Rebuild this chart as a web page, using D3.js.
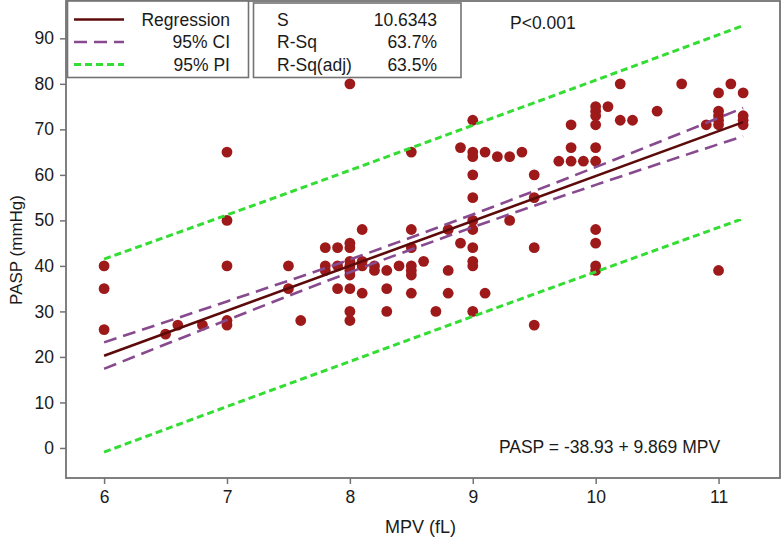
<!DOCTYPE html>
<html><head><meta charset="utf-8">
<script src="https://cdn.jsdelivr.net/npm/d3@7"></script>
<style>body{margin:0;background:#fff}svg{display:block}text{font-family:"Liberation Sans",Arial,sans-serif;fill:#1a1a1a}</style>
</head><body><svg id="c" width="783" height="539"></svg>
<script>
// ---- data ----
const mpv = [6,6,6, 6.5,6.6,6.8, 7,7,7,7,7, 7.5,7.5,7.6, 7.8,7.8,7.8, 7.9,7.9,7.9,
  8,8,8,8,8,8,8,8,8,8, 8.1,8.1,8.1,8.1, 8.2,8.2, 8.3,8.3,8.3, 8.4,
  8.5,8.5,8.5,8.5,8.5,8.5,8.5, 8.6, 8.7, 8.8,8.8,8.8, 8.9,8.9,
  9,9,9,9,9,9,9,9,9,9,9, 9.1,9.1, 9.2, 9.3,9.3, 9.4, 9.5,9.5,9.5,9.5, 9.7,
  9.8,9.8,9.8, 9.9, 10,10,10,10,10,10,10,10,10,10, 10.1, 10.2,10.2, 10.3, 10.5, 10.7, 10.9,
  11,11,11,11,11,11, 11.1, 11.2,11.2,11.2,11.2];
const pasp = [40,35,26, 25,27,27, 65,50,40,28,27, 40,35,28, 44,40,39, 44,40,35,
  80,45,44,41,40,39,38,35,30,28, 48,41,40,34, 40,39, 39,35,30, 40,
  65,48,44,40,39,38,34, 41, 30, 48,39,34, 66,45,
  72,65,64,60,55,50,48,44,41,40,30, 65,34, 64, 64,50, 65, 60,55,44,27, 63,
  71,66,63, 63, 75,74,73,71,66,63,48,45,40,39, 75, 80,72, 72, 74, 80, 71,
  78,74,73,72,71,39, 80, 78,73,72,71];
const fitX = [6, 11.2];
const fitY = [20.28, 71.59];           // PASP = -38.93 + 9.869 MPV
const bandX = [6, 7, 8, 9, 10, 11.2];
const ciUpper = [23.2, 32.2, 41.4, 51.3, 61.7, 74.7];
const ciLower = [17.4, 28.1, 38.6, 48.5, 57.8, 68.5];
const piUpper = [41.5, 51.2, 61.0, 70.9, 80.8, 92.8];
const piLower = [-0.9, 9.1, 19.0, 28.9, 38.7, 50.4];
const xTicks = [6, 7, 8, 9, 10, 11];
const yTicks = [0, 10, 20, 30, 40, 50, 60, 70, 80, 90];
const legendLabels = ["Regression", "95% CI", "95% PI"];
const statNames = ["S", "R-Sq", "R-Sq(adj)"];
const statValues = ["10.6343", "63.7%", "63.5%"];

// ---- drawing ----
const svg = d3.select("#c");
const L = 66, R = 780, T = 1, B = 478;
const x = d3.scaleLinear().domain([5.69, 11.5]).range([L, R]);
const y = d3.scaleLinear().domain([-6.6, 98.2]).range([B, T]);
const FS = 17.5;
const cDot = "#9e1a1a", cReg = "#5c0a0a", cCI = "#874a8e", cPI = "#33dd33", cAxis = "#737373";

// frame
svg.append("rect").attr("x", L).attr("y", T).attr("width", R - L).attr("height", B - T)
  .attr("fill", "none").attr("stroke", cAxis).attr("stroke-width", 1.8);

// axes
const ya = svg.append("g").attr("transform", `translate(${L},0)`)
  .call(d3.axisLeft(y).tickValues(yTicks).tickSize(6).tickPadding(6));
const xa = svg.append("g").attr("transform", `translate(0,${B})`)
  .call(d3.axisBottom(x).tickValues(xTicks).tickFormat(d3.format("d")).tickSize(6).tickPadding(7));
[ya, xa].forEach(g => {
  g.select(".domain").remove();
  g.selectAll("line").attr("stroke", cAxis).attr("stroke-width", 1.5);
  g.selectAll("text").attr("font-size", FS).attr("font-family", '"Liberation Sans",Arial,sans-serif').attr("fill", "#1a1a1a");
});

// points
svg.append("g").selectAll("circle").data(mpv.map((m, i) => [m, pasp[i]])).join("circle")
  .attr("cx", d => x(d[0])).attr("cy", d => y(d[1])).attr("r", 5.4).attr("fill", cDot);

// lines
const line = d3.line().x(d => x(d[0])).y(d => y(d[1])).curve(d3.curveMonotoneX);
const band = arr => bandX.map((v, i) => [v, arr[i]]);
[[piUpper, cPI], [piLower, cPI]].forEach(([a, c]) =>
  svg.append("path").attr("d", line(band(a))).attr("fill", "none").attr("stroke", c)
    .attr("stroke-width", 3).attr("stroke-dasharray", "7,4"));
[[ciUpper, cCI], [ciLower, cCI]].forEach(([a, c]) =>
  svg.append("path").attr("d", line(band(a))).attr("fill", "none").attr("stroke", c)
    .attr("stroke-width", 2.6).attr("stroke-dasharray", "13,7"));
svg.append("path").attr("d", line(fitX.map((v, i) => [v, fitY[i]]))).attr("fill", "none")
  .attr("stroke", cReg).attr("stroke-width", 2.6);

// legend box
svg.append("rect").attr("x", 67.5).attr("y", 1).attr("width", 181).attr("height", 76.5)
  .attr("fill", "#fff").attr("stroke", cAxis).attr("stroke-width", 1.6);
const rowsY = [19.5, 42, 64.5];
const styles = [[cReg, null, 2.6], [cCI, "13,7", 2.6], [cPI, "7,4", 3]];
legendLabels.forEach((t, i) => {
  svg.append("line").attr("x1", 74).attr("x2", 124).attr("y1", rowsY[i]).attr("y2", rowsY[i])
    .attr("stroke", styles[i][0]).attr("stroke-width", styles[i][2]).attr("stroke-dasharray", styles[i][1]);
  svg.append("text").attr("x", 230).attr("y", rowsY[i] + 6.3).attr("text-anchor", "end")
    .attr("font-size", FS).text(t);
});

// stats box
svg.append("rect").attr("x", 253.5).attr("y", 3).attr("width", 207.5).attr("height", 74.5)
  .attr("fill", "#fff").attr("stroke", cAxis).attr("stroke-width", 1.6);
statNames.forEach((t, i) => {
  svg.append("text").attr("x", 277).attr("y", rowsY[i] + 6.3).attr("font-size", FS).text(t);
  svg.append("text").attr("x", 437).attr("y", rowsY[i] + 6.3).attr("text-anchor", "end")
    .attr("font-size", FS).text(statValues[i]);
});

// annotations
svg.append("text").attr("x", 510).attr("y", 29).attr("font-size", FS).text("P<0.001");
svg.append("text").attr("x", 609.5).attr("y", 453).attr("text-anchor", "middle")
  .attr("font-size", FS).text("PASP = -38.93 + 9.869 MPV");

// axis titles
svg.append("text").attr("x", 420.5).attr("y", 533).attr("text-anchor", "middle")
  .attr("font-size", 18).text("MPV (fL)");
svg.append("text").attr("transform", "translate(22,250) rotate(-90)").attr("text-anchor", "middle")
  .attr("font-size", 17).text("PASP (mmHg)");
</script></body></html>
